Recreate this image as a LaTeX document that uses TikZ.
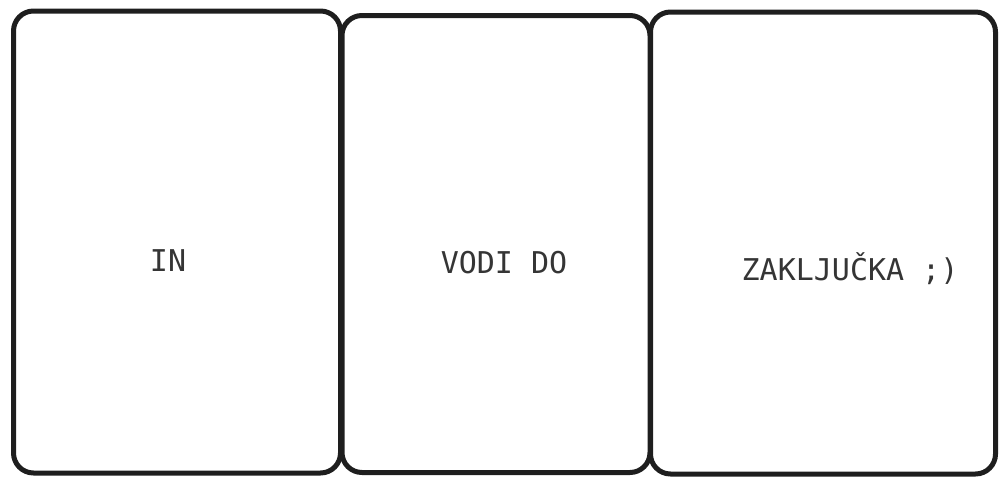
\documentclass[tikz,border=0pt]{standalone}
\usepackage{fontspec}
\setmonofont{DejaVu Sans Mono}
\usepackage{xcolor}
\definecolor{inkgray}{RGB}{30,30,30}
\usetikzlibrary{positioning}

\tikzset{
  panel/.style={draw=inkgray, line width=5pt, rounded corners=20pt, inner sep=0pt},
  paneltext/.style={font=\ttfamily\fontsize{30}{36}\selectfont, text=inkgray!90}
}

\begin{document}
\begin{tikzpicture}[x=1pt, y=-1pt]
  \useasboundingbox (0,0) rectangle (1003,479);

  % Panels
  \node[panel, minimum width=327pt, minimum height=462pt] (leftpanel) at (177,242) {};
  \node[panel, minimum width=308pt, minimum height=457pt] (midpanel) at (496,244) {};
  \node[panel, minimum width=345pt, minimum height=462pt] (rightpanel) at (823,243) {};

  % Labels
  \node[paneltext] (intext) at (168,261) {IN};
  \node[paneltext] (voditext) at (504,263) {VODI DO};
  \node[paneltext] (endtext) at (850,269) {ZAKLJUČKA ;)};
\end{tikzpicture}
\end{document}
